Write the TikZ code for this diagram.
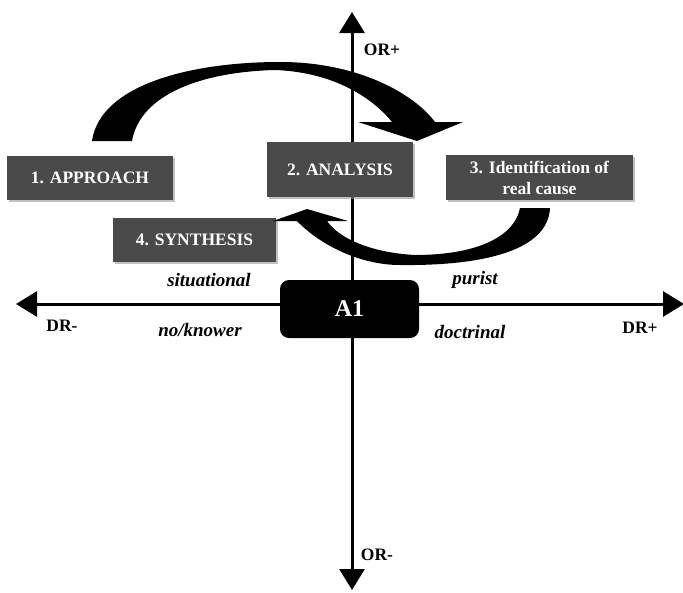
\documentclass[tikz,border=0pt]{standalone}
\usepackage{fontspec}
\setmainfont{Liberation Serif}
\usetikzlibrary{arrows.meta,shadows}
\definecolor{boxgray}{HTML}{4A4A4A}
\tikzset{
  stepbox/.style={draw=none, fill=boxgray, text=white, inner sep=0pt, align=center,
    font=\fontsize{17.5}{21}\selectfont\bfseries,
    drop shadow={shadow xshift=1.5pt, shadow yshift=-1.5pt, fill=black!40, opacity=0.6}},
  axis/.style={line width=3pt, {Triangle[length=21pt,width=25pt]}-{Triangle[length=21pt,width=25pt]}},
  axlabel/.style={font=\fontsize{17.5}{20}\selectfont\bfseries, inner sep=0pt},
  poslabel/.style={font=\fontsize{19}{22}\selectfont\bfseries\itshape, inner sep=0pt},
  bigarrow/.style={fill=black, draw=none}
}
\begin{document}
\begin{tikzpicture}[x=1pt,y=-1pt]
\useasboundingbox (0,0) rectangle (683,592);
\fill[white] (0,0) rectangle (683,592);
% axes
\coordinate (vtop) at (352,12);
\coordinate (vbot) at (352,590);
\coordinate (hleft) at (16,304);
\coordinate (hright) at (684,304);
\draw[axis] (vbot) -- (vtop);
\draw[axis] (hleft) -- (hright);
% boxes
\node[stepbox, minimum width=166pt, minimum height=44pt] (approach) at (90,178) {1. APPROACH};
\node[stepbox, minimum width=146pt, minimum height=55pt] (analysis) at (340,169.5) {2. ANALYSIS};
\node[stepbox, minimum width=187pt, minimum height=45pt] (ident) at (539.5,177.5) {3. Identification of\\real cause};
\node[stepbox, minimum width=163pt, minimum height=44pt] (synth) at (194.5,240) {4. SYNTHESIS};
\node[fill=black, text=white, rounded corners=9pt, minimum width=139pt, minimum height=58pt,
  font=\fontsize{24}{28}\selectfont\bfseries, inner sep=0pt] (a1) at (349.5,309) {A1};
% top curved arrow (approach -> identification)
\fill[bigarrow] (92,141) .. controls (100,85) and (190,62) .. (280,62)
  .. controls (360,62) and (415,95) .. (435,122)
  -- (463,122) -- (417,141) -- (358,122) -- (392,122)
  .. controls (370,95) and (330,72) .. (275,70)
  .. controls (200,72) and (140,95) .. (132,141) -- cycle;
% bottom curved arrow (identification -> synthesis/analysis)
\fill[bigarrow] (550,208) .. controls (548,250) and (485,266) .. (400,265)
  .. controls (360,265) and (320,245) .. (297,221)
  -- (273,221) -- (307,209) -- (348,221) -- (327,221)
  .. controls (340,240) and (375,253) .. (415,255)
  .. controls (480,255) and (515,235) .. (520,208) -- cycle;
% axis labels
\node[axlabel] (orp) at (382,50) {OR+};
\node[axlabel] (orm) at (377,555) {OR-};
\node[axlabel] (drm) at (62,326) {DR-};
\node[axlabel] (drp) at (640,328) {DR+};
% quadrant labels
\node[poslabel] (situ) at (209,280) {situational};
\node[poslabel] (puri) at (475,280) {purist};
\node[poslabel] (know) at (200,330) {no/knower};
\node[poslabel] (doct) at (470,332) {doctrinal};
\end{tikzpicture}
\end{document}
